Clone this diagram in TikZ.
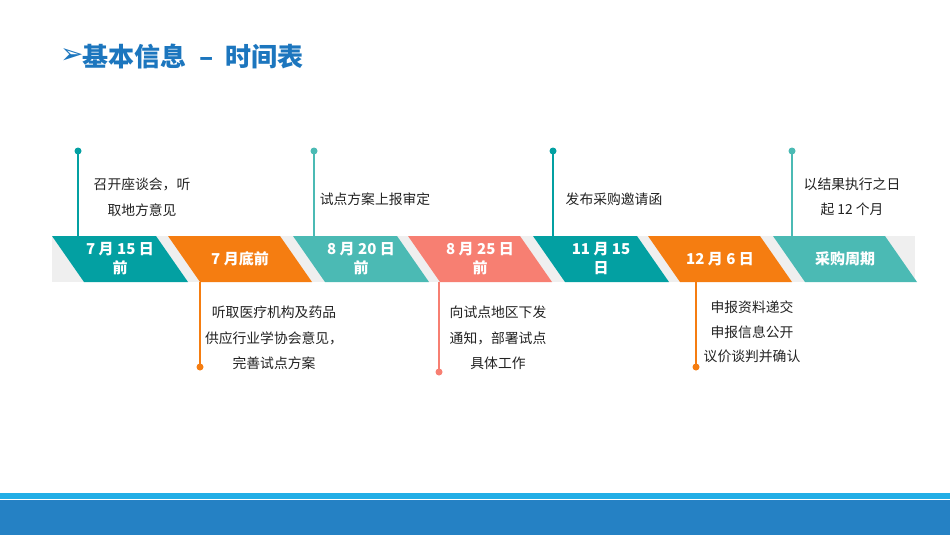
\documentclass[tikz,border=0pt]{standalone}
\usepackage{fontspec}
\setmainfont{Noto Sans CJK SC}
\newfontfamily\dejavu{DejaVu Sans}
\definecolor{dteal}{HTML}{03A0A2}
\definecolor{lteal}{HTML}{4BBAB4}
\definecolor{orng}{HTML}{F57D11}
\definecolor{salmon}{HTML}{F77F72}
\definecolor{band}{HTML}{EFEFEF}
\definecolor{txt}{HTML}{222222}
\definecolor{ttl}{HTML}{1C76BE}
\definecolor{barlight}{HTML}{22AEE6}
\definecolor{bardark}{HTML}{2581C4}
\newcommand\tlseg[5]{%
  \fill[#3] (#1,236) -- ({#1+#2},236) -- ({#1+#2+32},282) -- ({#1+32},282) -- cycle;
  \node[segtext] (#4) at ({#1+16+#2/2},259) {#5};
}
\tikzset{
  segtext/.style={text=white,font=\fontsize{15}{19}\selectfont\bfseries,align=center,inner sep=0pt},
  lbl/.style={text=txt,font=\fontsize{13.8}{25.5}\selectfont,align=center,inner sep=0pt},
  stem/.style={line width=2pt},
}
\begin{document}
\begin{tikzpicture}[x=1pt,y=-1pt]
\useasboundingbox (0,0) rectangle (950,535);
\fill[white] (0,0) rectangle (950,535);
% title
\node[anchor=west,text=ttl,inner sep=0pt,font=\dejavu\fontsize{28}{28}\selectfont] (arrow) at (60,56) {➢};
\node[anchor=west,text=ttl,inner sep=0pt,font=\fontsize{26}{26}\selectfont\bfseries] (title) at (82,57) {基本信息\hspace{0.5em}–\hspace{0.45em}时间表};
% band
\fill[band] (52,236) rectangle (915,282);
\tlseg{52}{104}{dteal}{s1}{7 月 15 日\\前}
\tlseg{168}{112}{orng}{s2}{7 月底前}
\tlseg{293}{104}{lteal}{s3}{8 月 20 日\\前}
\tlseg{408}{112}{salmon}{s4}{8 月 25 日\\前}
\tlseg{533}{104}{dteal}{s5}{11 月 15\\日}
\tlseg{648}{112}{orng}{s6}{12 月 6 日}
\tlseg{773}{112}{lteal}{s7}{采购周期}
% stems above
\coordinate (t1) at (78,151); \coordinate (b1) at (78,236);
\coordinate (t3) at (314,151); \coordinate (b3) at (314,236);
\coordinate (t5) at (553,151); \coordinate (b5) at (553,236);
\coordinate (t7) at (792,151); \coordinate (b7) at (792,236);
\draw[stem,dteal] (t1) -- (b1); \fill[dteal] (t1) circle (3.5);
\draw[stem,lteal] (t3) -- (b3); \fill[lteal] (t3) circle (3.5);
\draw[stem,dteal] (t5) -- (b5); \fill[dteal] (t5) circle (3.5);
\draw[stem,lteal] (t7) -- (b7); \fill[lteal] (t7) circle (3.5);
% stems below
\coordinate (u2) at (200,282); \coordinate (d2) at (200,367);
\coordinate (u4) at (439,282); \coordinate (d4) at (439,372);
\coordinate (u6) at (696,282); \coordinate (d6) at (696,367);
\draw[stem,orng] (u2) -- (d2); \fill[orng] (d2) circle (3.5);
\draw[stem,salmon] (u4) -- (d4); \fill[salmon] (d4) circle (3.5);
\draw[stem,orng] (u6) -- (d6); \fill[orng] (d6) circle (3.5);
% labels
\node[lbl] (l1) at (142,197) {召开座谈会，听\\取地方意见};
\node[lbl] (l3) at (375,199) {试点方案上报审定};
\node[lbl] (l5) at (614,199) {发布采购邀请函};
\node[lbl] (l7) at (852,197) {以结果执行之日\\起 12 个月};
\node[lbl] (l2) at (274,338) {听取医疗机构及药品\\供应行业学协会意见，\\完善试点方案};
\node[lbl] (l4) at (498,338) {向试点地区下发\\通知，部署试点\\具体工作};
\node[lbl,font=\fontsize{13.8}{24.5}\selectfont] (l6) at (752,332) {申报资料递交\\申报信息公开\\议价谈判并确认};
% bottom bar
\fill[barlight] (0,493) rectangle (950,498.5);
\fill[bardark] (0,499.5) rectangle (950,535);
\end{tikzpicture}
\end{document}
